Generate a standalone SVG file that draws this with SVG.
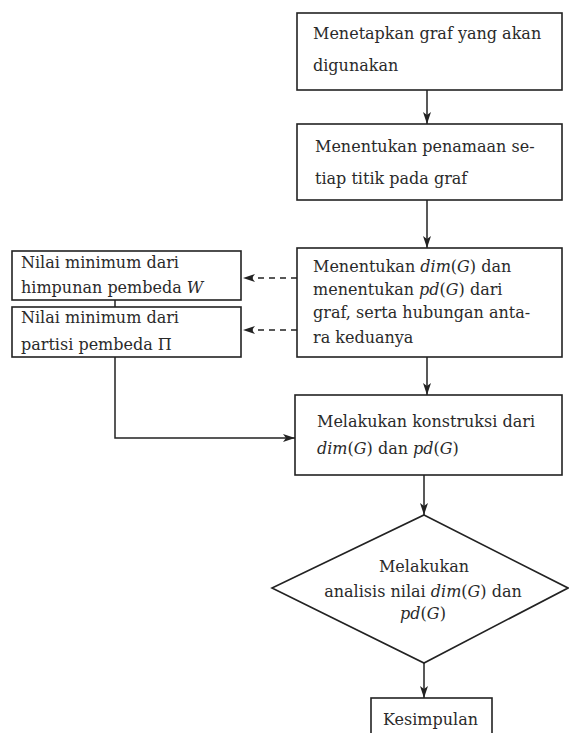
<svg xmlns="http://www.w3.org/2000/svg" width="569" height="733" viewBox="0 0 569 733">
<style>
.box{fill:#fff;stroke:#222;stroke-width:1.6}
.t{font-family:"DejaVu Serif","Liberation Serif",serif;font-size:16px;fill:#2a2a2a}
.i{font-style:italic}
.c{fill:none;stroke:#222;stroke-width:1.5}
.d{fill:none;stroke:#222;stroke-width:1.5;stroke-dasharray:6 5}
</style>
<defs>
<marker id="ah" viewBox="0 0 12 8" refX="12" refY="4" markerWidth="12" markerHeight="8" markerUnits="userSpaceOnUse" orient="auto">
<path d="M0,0 L12,4 L0,8 L3,4 Z" fill="#222"/>
</marker>
</defs>
<rect width="569" height="733" fill="#fff"/>
<g id="connectors">
<line class="c" x1="427" y1="90" x2="427" y2="124" marker-end="url(#ah)"/>
<line class="c" x1="427" y1="200" x2="427" y2="248" marker-end="url(#ah)"/>
<line class="d" x1="297" y1="278" x2="243" y2="278" marker-end="url(#ah)"/>
<line class="d" x1="297" y1="330" x2="243" y2="330" marker-end="url(#ah)"/>
<line class="c" x1="115" y1="300" x2="115" y2="307"/>
<line class="c" x1="427" y1="357" x2="427" y2="395" marker-end="url(#ah)"/>
<polyline class="c" points="115,357 115,438 295,438" marker-end="url(#ah)"/>
<line class="c" x1="424" y1="475" x2="424" y2="515" marker-end="url(#ah)"/>
<line class="c" x1="424" y1="663" x2="424" y2="698" marker-end="url(#ah)"/>
</g>
<g id="n1">
<rect class="box" x="297" y="13" width="265" height="77"/>
<text class="t" x="313" y="39">Menetapkan graf yang akan</text>
<text class="t" x="313" y="71">digunakan</text>
</g>
<g id="n2">
<rect class="box" x="297" y="124" width="265" height="76"/>
<text class="t" x="315" y="152">Menentukan penamaan se-</text>
<text class="t" x="315" y="184">tiap titik pada graf</text>
</g>
<g id="n3">
<rect class="box" x="297" y="248" width="265" height="109"/>
<text class="t" x="313" y="272">Menentukan <tspan class="i">dim</tspan>(<tspan class="i">G</tspan>) dan</text>
<text class="t" x="313" y="295">menentukan <tspan class="i">pd</tspan>(<tspan class="i">G</tspan>) dari</text>
<text class="t" x="313" y="318">graf, serta hubungan anta-</text>
<text class="t" x="313" y="343">ra keduanya</text>
</g>
<g id="n4">
<rect class="box" x="12" y="251" width="229" height="49"/>
<text class="t" x="21" y="268">Nilai minimum dari</text>
<text class="t" x="21" y="293">himpunan pembeda <tspan class="i">W</tspan></text>
</g>
<g id="n5">
<rect class="box" x="12" y="307" width="229" height="50"/>
<text class="t" x="21" y="323">Nilai minimum dari</text>
<text class="t" x="21" y="350">partisi pembeda Π</text>
</g>
<g id="n6">
<rect class="box" x="295" y="395" width="267" height="80"/>
<text class="t" x="317" y="427">Melakukan konstruksi dari</text>
<text class="t" x="317" y="454"><tspan class="i">dim</tspan>(<tspan class="i">G</tspan>) dan <tspan class="i">pd</tspan>(<tspan class="i">G</tspan>)</text>
</g>
<g id="n7">
<polygon class="box" points="424,515 568,588 424,663 272,588"/>
<text class="t" x="424" y="572" text-anchor="middle">Melakukan</text>
<text class="t" x="423" y="597" text-anchor="middle">analisis nilai <tspan class="i">dim</tspan>(<tspan class="i">G</tspan>) dan</text>
<text class="t" x="423" y="619" text-anchor="middle"><tspan class="i">pd</tspan>(<tspan class="i">G</tspan>)</text>
</g>
<g id="n8">
<rect class="box" x="371" y="698" width="121" height="45"/>
<text class="t" x="383" y="725">Kesimpulan</text>
</g>
</svg>
